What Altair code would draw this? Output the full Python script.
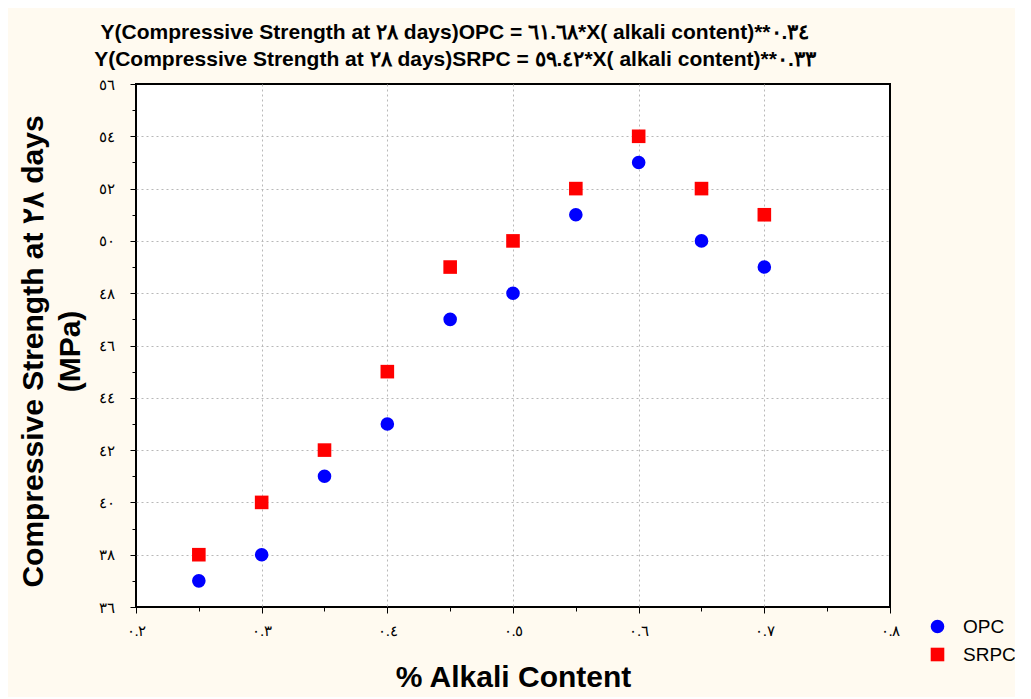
import altair as alt
import pandas as pd

# ---- data ----
alkali = [0.25, 0.30, 0.35, 0.40, 0.45, 0.50, 0.55, 0.60, 0.65, 0.70]
opc = [37, 38, 41, 43, 47, 48, 51, 53, 50, 49]
srpc = [38, 40, 42, 45, 49, 50, 52, 54, 52, 51]
series = ["OPC", "SRPC"]
x_labels = ["٠.٢", "٠.٣", "٠.٤", "٠.٥", "٠.٦", "٠.٧", "٠.٨"]
y_labels = ["٣٦", "٣٨", "٤٠", "٤٢", "٤٤", "٤٦", "٤٨", "٥٠", "٥٢", "٥٤", "٥٦"]
title_lines = [
    "Y(Compressive Strength at ٢٨ days)OPC = ٦١.٦٨*X( alkali content)**٠.٣٤",
    "Y(Compressive Strength at ٢٨ days)SRPC = ٥٩.٤٢*X( alkali content)**٠.٣٣",
]
y_title = ["Compressive Strength at ٢٨ days", "(MPa)"]
x_title = "% Alkali Content"

rows = []
for xv, a, b in zip(alkali, opc, srpc):
    rows.append({"x": xv, "y": a, "s": series[0]})
    rows.append({"x": xv, "y": b, "s": series[1]})
df = pd.DataFrame(rows)

x_ticks = [round(0.2 + 0.05 * i, 2) for i in range(13)]
y_ticks = list(range(36, 57))

xl = "[" + ",".join("'" + s + "'" for s in x_labels) + "]"
yl = "[" + ",".join("'" + s + "'" for s in y_labels) + "]"

x_major = "round(datum.value*100) % 10 === 0"
y_major = "datum.value % 2 === 0"

lbl_font = "Liberation Serif"

x_axis = alt.Axis(
    values=x_ticks,
    labelExpr=f"{x_major} ? {xl}[round(datum.value*10)-2] : ''",
    labelFont=lbl_font, labelFontSize=15, labelColor="black",
    labelPadding=10,
    tickSize={"condition": {"test": x_major, "value": 6}, "value": 4},
    tickColor="black", tickWidth=1,
    domain=False,
    grid=True, gridColor="#b8b8b8", gridDash=[2, 3], gridWidth=1,
    gridOpacity={"condition": {"test": x_major + " && datum.value > 0.21 && datum.value < 0.79", "value": 1}, "value": 0},
    title=x_title, titleFont="Liberation Sans", titleFontSize=30,
    titleFontWeight="bold", titleColor="black",
    titleX=377, titleY=70, titleBaseline="middle", titleAlign="center",
    labelFlush=False, labelOverlap=False,
)
y_axis = alt.Axis(
    values=y_ticks,
    labelExpr=f"{y_major} ? {yl}[(datum.value-36)/2] : ''",
    labelFont=lbl_font, labelFontSize=15, labelColor="black",
    labelPadding=16,
    tickSize={"condition": {"test": y_major, "value": 6}, "value": 4},
    tickColor="black", tickWidth=1,
    domain=False,
    grid=True, gridColor="#b8b8b8", gridDash=[2, 3], gridWidth=1,
    gridOpacity={"condition": {"test": y_major + " && datum.value > 36 && datum.value < 56", "value": 1}, "value": 0},
    title=y_title, titleFont="Liberation Sans", titleFontSize=30,
    titleFontWeight="bold", titleColor="black",
    titleAngle=-90, titleX=-103, titleY=267, titleBaseline="middle",
    titleAlign="center", titleLineHeight=37,
    labelFlush=False, labelOverlap=False,
)

legend = alt.Legend(title=None, orient="none", legendX=792, legendY=533,
                    labelFont="Liberation Sans", labelFontSize=19,
                    labelColor="black", labelOffset=16, rowPadding=8,
                    symbolSize=185, symbolStrokeWidth=0, padding=0)

chart = (
    alt.Chart(df)
    .mark_point(filled=True, opacity=1, size=185)
    .encode(
        x=alt.X("x:Q", scale=alt.Scale(domain=[0.2, 0.8], nice=False, zero=False), axis=x_axis),
        y=alt.Y("y:Q", scale=alt.Scale(domain=[36, 56], nice=False, zero=False), axis=y_axis),
        color=alt.Color("s:N", scale=alt.Scale(domain=series, range=["#0000FF", "#FF0000"]),
                        legend=legend),
        shape=alt.Shape("s:N", scale=alt.Scale(domain=series, range=["circle", "square"]),
                        legend=legend),
    )
    .properties(
        width=754, height=523,
        title=alt.TitleParams(text=title_lines, font="Liberation Sans", fontSize=21,
                              fontWeight="bold", color="black", anchor="middle",
                              dx=-58, offset=7, lineHeight=27),
        autosize=alt.AutoSizeParams(type="none"),
        padding={"left": 128, "top": 76, "right": 125, "bottom": 90},
        background="#FFFAF0",
    )
    .configure_view(stroke="black", strokeWidth=2, fill="white")
)

chart.save("out.html", embed_options={"renderer": "svg", "actions": False})
